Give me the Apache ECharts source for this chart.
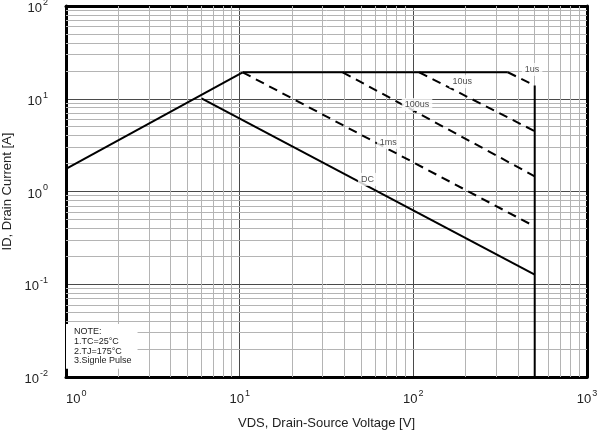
<!DOCTYPE html>
<html>
<head>
<meta charset="utf-8">
<script src="https://cdn.jsdelivr.net/npm/echarts@6/dist/echarts.min.js"></script>
<style>html,body{margin:0;padding:0;background:#fff;}#c{width:602px;height:439px;}</style>
</head>
<body>
<div id="c"></div>
<script>
// ---- data ----
const rdsV = [1, 10.4];        const rdsI = [1.75, 19.3];
const limV = [10.4, 350];      const limI = [19.3, 19.3];
const bvV  = [500, 500];       const bvI  = [13.9, 0.01];
const dcV  = [6.03, 500];      const dcI  = [10.1, 0.127];
const ms1V = [10.4, 500];      const ms1I = [19.3, 0.42];
const us100V = [39.2, 500];    const us100I = [19.3, 1.46];
const us10V  = [108, 500];     const us10I  = [19.3, 4.47];
const us1V   = [350, 500];     const us1I   = [19.3, 13.9];
const labelTexts = ['1us', '10us', '100us', '1ms', 'DC'];
const labelV = [483, 191, 105, 71.8, 54.4];
const labelI = [20.7, 15.3, 8.67, 3.38, 1.35];
const xMinor = [2,3,4,5,6,7,8,9,20,30,40,50,60,70,80,90,200,300,400,500,600,700,800,900];
const yMinor = [0.02,0.03,0.04,0.05,0.06,0.07,0.08,0.09,0.2,0.3,0.4,0.5,0.6,0.7,0.8,0.9,2,3,4,5,6,7,8,9,20,30,40,50,60,70,80,90];
const noteText = 'NOTE:\n1.TC=25°C\n2.TJ=175°C\n3.Signle Pulse';

const FONT = "'Liberation Sans', Arial, sans-serif";
const NARROW = "'Liberation Sans Narrow', 'Arial Narrow', 'Liberation Sans', sans-serif";
const pts = (a, b) => a.map((v, i) => [v, b[i]]);
const supFmt = v => '{b|10}{s|' + Math.round(Math.log10(v)) + '}';
const rich = {
  b: {fontSize: 13, lineHeight: 18, color: '#222', fontFamily: FONT, verticalAlign: 'bottom'},
  s: {fontSize: 9, lineHeight: 18, color: '#222', fontFamily: FONT, verticalAlign: 'top', padding: [1, 0, 0, 1]}
};

function solid(name, v, i) {
  return {name, type: 'line', data: pts(v, i), symbol: 'none', z: 5, animation: false,
    lineStyle: {color: '#000', width: 2}};
}
function dashed(name, v, i) {
  return {name, type: 'line', data: pts(v, i), symbol: 'none', z: 5, animation: false,
    lineStyle: {color: '#000', width: 2, type: [9, 6]}};
}

const chart = echarts.init(document.getElementById('c'), null, {renderer: 'canvas'});
chart.setOption({
  animation: false,
  backgroundColor: '#fff',
  grid: {left: 66, right: 15, top: 6, bottom: 62, containLabel: false, outerBoundsMode: 'none'},
  xAxis: [{
    type: 'log', logBase: 10, min: 1, max: 1000,
    name: 'VDS, Drain-Source Voltage [V]', nameLocation: 'middle', nameGap: 40,
    nameTextStyle: {fontSize: 13, color: '#222', fontFamily: FONT},
    axisLine: {show: true, lineStyle: {color: '#000', width: 3}},
    axisTick: {show: false},
    axisLabel: {formatter: supFmt, rich, margin: 11, alignMinLabel: 'left'},
    splitLine: {show: true, lineStyle: {color: '#4a4a4a', width: 1}}
  }, {
    type: 'log', logBase: 10, min: 1, max: 1000, position: 'top',
    axisLine: {show: true, onZero: false, lineStyle: {color: '#000', width: 3}},
    axisTick: {show: false}, axisLabel: {show: false}, splitLine: {show: false}
  }],
  yAxis: [{
    type: 'log', logBase: 10, min: 0.01, max: 100,
    name: 'ID, Drain Current [A]', nameLocation: 'middle', nameGap: 46,
    nameTextStyle: {fontSize: 13, color: '#222', fontFamily: FONT},
    axisLine: {show: true, lineStyle: {color: '#000', width: 3}},
    axisTick: {show: false},
    axisLabel: {formatter: supFmt, rich, margin: 18},
    splitLine: {show: true, lineStyle: {color: '#4a4a4a', width: 1}}
  }, {
    type: 'log', logBase: 10, min: 0.01, max: 100, position: 'right',
    axisLine: {show: true, onZero: false, lineStyle: {color: '#000', width: 3}},
    axisTick: {show: false}, axisLabel: {show: false}, splitLine: {show: false}
  }],
  series: [
    {type: 'line', data: [], symbol: 'none', z: 1, silent: true,
     markLine: {silent: true, symbol: 'none', animation: false, label: {show: false},
       lineStyle: {color: '#b4b4b4', width: 1, type: 'solid'},
       data: xMinor.map(v => ({xAxis: v})).concat(yMinor.map(v => ({yAxis: v})))}},
    solid('RDS(on) limit', rdsV, rdsI),
    solid('Current limit', limV, limI),
    solid('BVDSS', bvV, bvI),
    solid('DC', dcV, dcI),
    dashed('1ms', ms1V, ms1I),
    dashed('100us', us100V, us100I),
    dashed('10us', us10V, us10I),
    dashed('1us', us1V, us1I),
    {type: 'scatter', z: 10, symbolSize: 0, silent: true,
     data: labelTexts.map((t, k) => [labelV[k], labelI[k], t]),
     label: {show: true, position: 'inside', formatter: p => p.data[2],
       fontSize: 9, color: '#222', fontFamily: NARROW, backgroundColor: '#fff', padding: [2, 3]}}
  ],
  graphic: [{
    type: 'text', left: 66, top: 324, z: 100,
    style: {text: noteText, font: '9px ' + NARROW, fill: '#222', lineHeight: 9.7,
      backgroundColor: '#fff', padding: [3, 6, 3, 8]}
  }]
});
</script>
</body>
</html>
